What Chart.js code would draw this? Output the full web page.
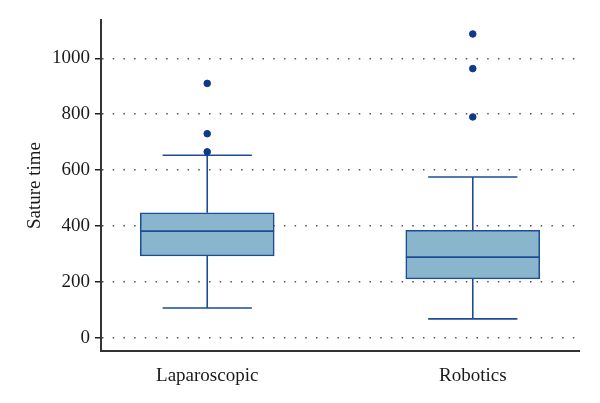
<!DOCTYPE html>
<html>
<head>
<meta charset="utf-8">
<script src="https://cdn.jsdelivr.net/npm/chart.js@4/dist/chart.umd.min.js"></script>
<style>
  html, body { margin: 0; padding: 0; background: #fff; }
  #wrap { width: 600px; height: 403px; }
</style>
</head>
<body>
<div id="wrap"><canvas id="myChart"></canvas></div>
<script>
const categories = ["Laparoscopic", "Robotics"];
const q1 = [292, 210];
const median = [381, 288];
const q3 = [447, 384];
const whiskerLow = [106, 67];
const whiskerHigh = [653, 575];
const outliers = [[665, 730, 910], [790, 963, 1087]];
const yTicks = [0, 200, 400, 600, 800, 1000];

const lineColor = "#1d4c96";
const boxFill = "#89b6cc";
const dotColor = "#0f3a8c";
const capHalf = 0.168;

// whiskers, caps and medians as one line dataset, null between segments
const segs = [];
categories.forEach((c, i) => {
  const x = i + 1;
  segs.push({x: x - capHalf, y: whiskerLow[i]}, {x: x + capHalf, y: whiskerLow[i]}, {x: x, y: null});
  segs.push({x: x, y: whiskerLow[i]}, {x: x, y: q1[i]}, {x: x, y: null});
  segs.push({x: x, y: q3[i]}, {x: x, y: whiskerHigh[i]}, {x: x, y: null});
  segs.push({x: x - capHalf, y: whiskerHigh[i]}, {x: x + capHalf, y: whiskerHigh[i]}, {x: x, y: null});
});
const meds = [];
categories.forEach((c, i) => {
  const x = i + 1;
  meds.push({x: x - 0.252, y: median[i]}, {x: x + 0.252, y: median[i]}, {x: x, y: null});
});
const outPts = [];
outliers.forEach((arr, i) => arr.forEach(v => outPts.push({x: i + 1, y: v})));

const font = {family: "'Liberation Serif', 'DejaVu Serif', serif", size: 19};

new Chart(document.getElementById("myChart").getContext("2d"), {
  type: "scatter",
  data: {
    datasets: [
      {
        type: "bar",
        data: categories.map((c, i) => ({x: i + 1, y: [q1[i], q3[i]]})),
        backgroundColor: boxFill,
        borderColor: lineColor,
        borderWidth: 1.6,
        borderSkipped: false,
        barThickness: 134,
        order: 2,
      },
      {
        type: "line",
        data: segs,
        borderColor: lineColor,
        borderWidth: 1.6,
        pointRadius: 0,
        spanGaps: false,
        order: 1,
      },
      {
        type: "line",
        data: meds,
        borderColor: lineColor,
        borderWidth: 1.6,
        pointRadius: 0,
        spanGaps: false,
        order: 0,
      },
      {
        data: outPts,
        backgroundColor: dotColor,
        borderColor: dotColor,
        pointRadius: 3.3,
        order: 0,
      },
    ],
  },
  options: {
    responsive: true,
    maintainAspectRatio: false,
    animation: false,
    layout: {padding: {top: 20, right: 21, bottom: 0, left: 0}},
    plugins: {legend: {display: false}, tooltip: {enabled: false}},
    scales: {
      x: {
        type: "linear",
        min: 0.6,
        max: 2.4,
        offset: false,
        afterBuildTicks: (scale) => { scale.ticks = categories.map((c, i) => ({value: i + 1})); },
        afterFit: (scale) => { scale.height = 52; },
        grid: {display: false},
        border: {display: true, color: "#333", width: 2},
        ticks: {
          font: font,
          color: "#1a1a1a",
          padding: 6,
          maxRotation: 0,
          callback: (v) => categories[v - 1],
        },
      },
      y: {
        min: -48,
        max: 1137,
        afterBuildTicks: (scale) => { scale.ticks = yTicks.map(v => ({value: v})); },
        afterFit: (scale) => { scale.width = 101; },
        grid: {
          color: "#555",
          lineWidth: 1.5,
          tickLength: 6,
          tickColor: "#222",
          tickBorderDash: [],
        },
        border: {display: true, color: "#333", width: 2, dash: [1.5, 9.2]},
        ticks: {font: font, color: "#1a1a1a", padding: 5, callback: (v) => String(v)},
        title: {
          display: true,
          text: "Sature time",
          font: font,
          color: "#1a1a1a",
          padding: {top: 24, bottom: 0},
        },
      },
    },
  },
});
</script>
</body>
</html>
